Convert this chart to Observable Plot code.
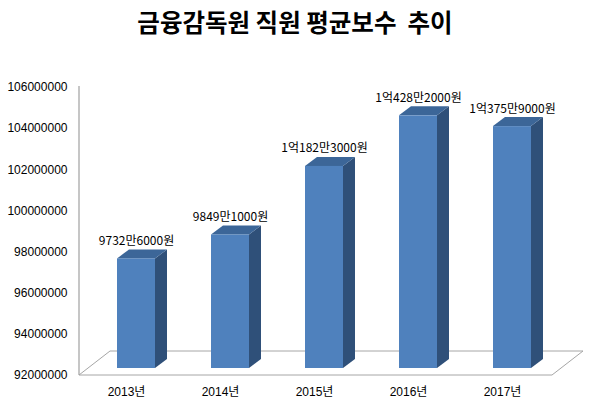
<!DOCTYPE html>
<html>
<head>
<meta charset="utf-8">
<script src="https://cdn.jsdelivr.net/npm/d3@7"></script>
<script src="https://cdn.jsdelivr.net/npm/@observablehq/plot@0.6"></script>
<style>
  body { margin: 0; background: #fff; }
  #wrap { position: relative; width: 590px; height: 408px; }
  #title { position: absolute; top: 4px; left: 0; width: 590px; text-align: center;
    font-family: "Noto Sans CJK KR", sans-serif; font-weight: 700; font-size: 24.5px; color: #000; }
  #chart { position: absolute; top: 0; left: 0; }
</style>
</head>
<body>
<div id="wrap">
  <div id="chart"></div>
  <div id="title">금융감독원 직원 평균보수&nbsp; 추이</div>
</div>
<script>
const years = ["2013", "2014", "2015", "2016", "2017"];
const values = [97326000, 98491000, 101823000, 104282000, 103759000];
const valueLabels = ["9732만6000원", "9849만1000원", "1억182만3000원", "1억428만2000원", "1억375만9000원"];
const yTicks = [92000000, 94000000, 96000000, 98000000, 100000000, 102000000, 104000000, 106000000];
const yMin = 92000000, yMax = 106000000;

const data = years.map((y, i) => ({year: y, value: values[i], label: valueLabels[i]}));

// 3D look parameters (pixels)
const FX = 10, FY = -7;   // front face offset
const DX = 12, DY = -9;   // bar depth
const floorDX = 31, floorDY = -24;

function floorMark(index, scales, values, dims) {
  const g = d3.create("svg:g");
  const x0 = dims.marginLeft, x1 = dims.width - dims.marginRight + 3;
  const yb = scales.y(yMin);
  g.append("path")
    .attr("d", `M${x0},${yb}L${x1},${yb}L${x1 + floorDX},${yb + floorDY}L${x0 + floorDX},${yb + floorDY}Z`)
    .attr("fill", "#fff").attr("stroke", "#a6a6a6").attr("stroke-width", 1);
  g.append("line")
    .attr("x1", x0).attr("x2", x0)
    .attr("y1", scales.y(yMax) - 1).attr("y2", yb)
    .attr("stroke", "#a0a0a0").attr("stroke-width", 1.2);
  return g.node();
}

function depthMark(index, scales, values, dims) {
  const g = d3.create("svg:g");
  const bw = scales.x.bandwidth ? scales.x.bandwidth() : 37.6;
  data.forEach(d => {
    const l = scales.x(d.year) + FX, r = l + bw;
    const t = scales.y(d.value) + FY, b = scales.y(yMin) + FY;
    g.append("path")
      .attr("d", `M${r},${t}L${r + DX},${t + DY}L${r + DX},${b + DY}L${r},${b}Z`)
      .attr("fill", "#2f5079");
    g.append("path")
      .attr("d", `M${l},${t}L${l + DX},${t + DY}L${r + DX},${t + DY}L${r},${t}Z`)
      .attr("fill", "#3c6698");
  });
  return g.node();
}

const plot = Plot.plot({
  width: 590,
  height: 408,
  marginLeft: 79,
  marginRight: 41,
  marginTop: 87,
  marginBottom: 33,
  style: {fontFamily: "'Liberation Sans', 'Noto Sans CJK KR', sans-serif", fontSize: "12px", color: "#000", background: "transparent"},
  x: {domain: years, paddingInner: 0.6, paddingOuter: 0.3, label: null},
  y: {domain: [yMin, yMax], label: null},
  marks: [
    floorMark,
    depthMark,
    Plot.barY(data, {x: "year", y1: () => yMin, y2: "value", fill: "#4f81bd", dx: FX, dy: FY}),
    Plot.text(data, {x: "year", y: "value", text: "label", dx: FX, dy: FY + DY - 5,
      lineAnchor: "bottom", fontSize: 12, fill: "#000",
      fontFamily: "'Noto Sans CJK KR', sans-serif"}),
    Plot.axisY({ticks: yTicks, tickFormat: d3.format("d"), tickSize: 0, tickPadding: 12, fontSize: 12, fill: "#000"}),
    Plot.axisX({tickSize: 0, tickPadding: 12, tickFormat: d => d + "년", fontSize: 12, fill: "#000"})
  ]
});
document.getElementById("chart").appendChild(plot);
</script>
</body>
</html>
